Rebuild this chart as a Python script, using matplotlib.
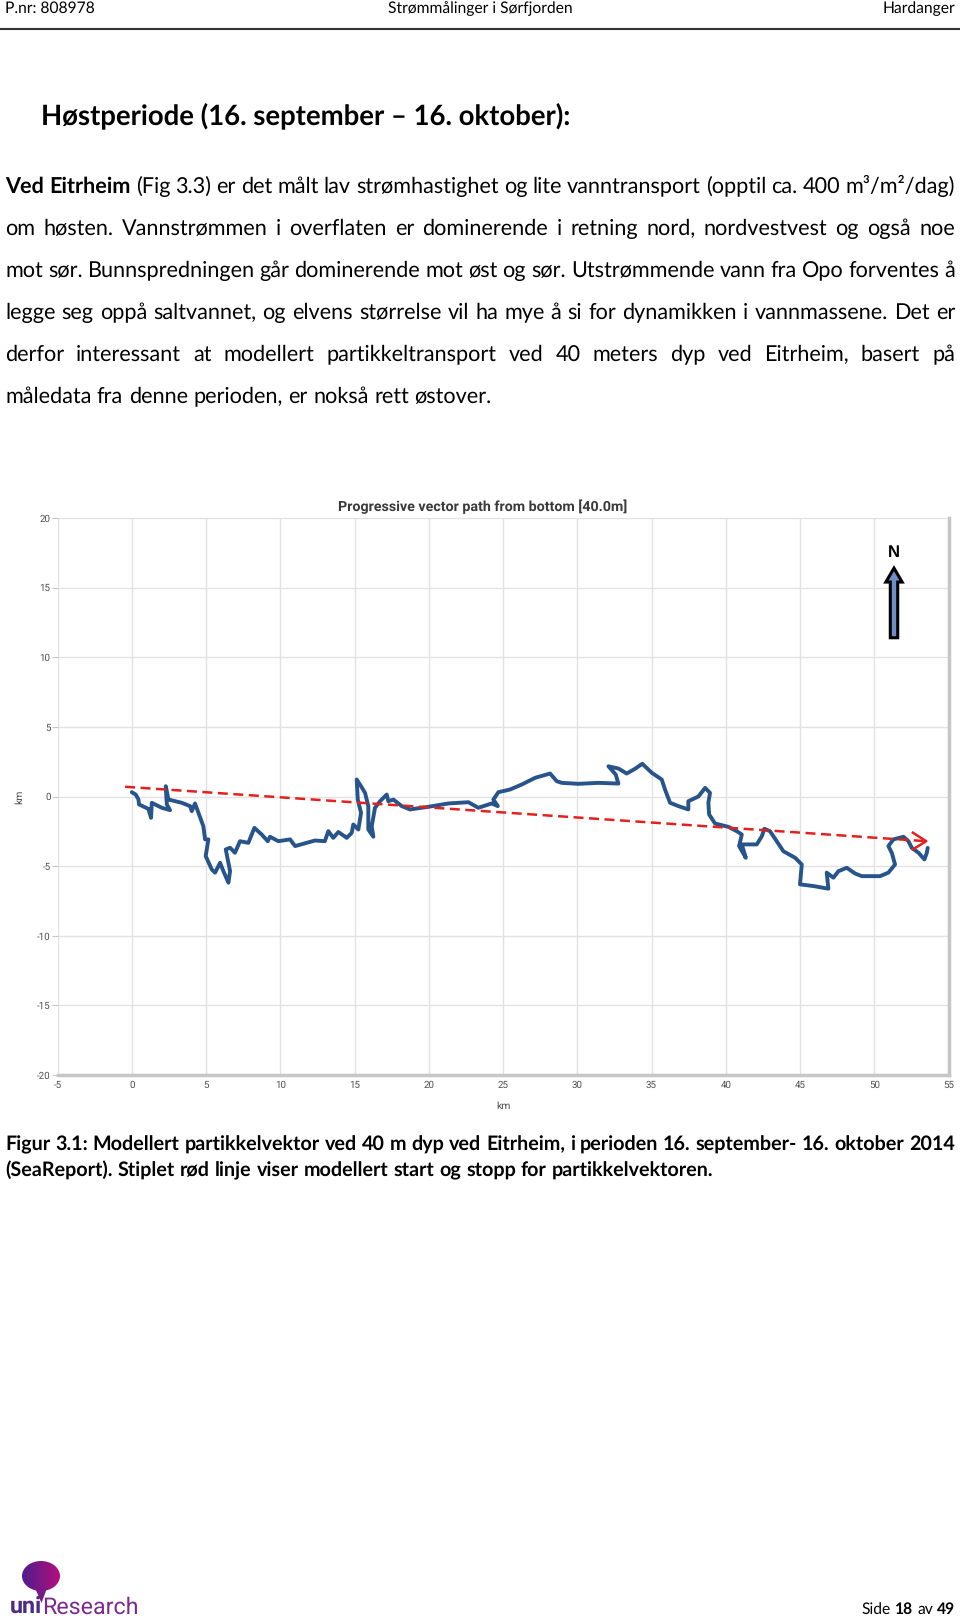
import numpy as np
import matplotlib
matplotlib.use('Agg')
import matplotlib.pyplot as plt
from matplotlib.font_manager import FontProperties
from matplotlib.patches import FancyArrow, Ellipse, Polygon

plt.rcParams['axes.unicode_minus'] = False
plt.rcParams['text.hinting'] = 'no_hinting'

W, H = 960, 1620

# progressive vector path (km east, km north)
path_x = [0.0, 0.27, 0.45, 0.49, 1.12, 1.30, 1.35, 2.02, 2.58, 2.36, 2.29, 2.47, 3.36, 3.93,
          4.04, 4.26, 4.49, 4.82, 4.94, 5.16, 4.98, 5.39, 5.61, 5.95, 6.17, 6.51, 6.62, 6.33,
          6.62, 6.95, 7.29, 7.85, 8.26, 8.75, 9.16, 9.31, 9.87, 10.66, 11.0, 12.34, 13.0, 13.24,
          13.57, 13.91, 14.48, 14.81, 14.92, 15.26, 15.44, 15.22, 15.15, 15.44, 15.71, 15.93,
          15.93, 16.27, 16.16, 16.38, 16.72, 17.17, 17.28, 17.62, 18.18, 18.74, 19.97, 21.32,
          22.67, 23.34, 24.24, 24.65, 24.35, 24.69, 25.47, 26.26, 27.16, 28.17, 28.62, 28.96,
          30.08, 31.42, 32.77, 32.59, 32.1, 32.77, 33.33, 33.89, 34.38, 35.02, 35.69, 35.91,
          36.25, 36.81, 37.48, 37.48, 38.16, 38.61, 38.94, 38.83, 38.88, 39.28, 40.18, 40.74,
          41.08, 40.9, 41.35, 41.08, 42.09, 42.43, 42.6, 42.98, 43.43, 43.88, 44.67, 45.12,
          45.0, 45.9, 46.91, 46.8, 47.25, 47.59, 48.15, 48.71, 49.16, 50.39, 50.95, 51.4,
          51.18, 50.95, 51.29, 51.97, 52.3, 52.53, 52.98, 53.38, 53.54, 53.6]
path_y = [0.31, 0.14, -0.2, -0.57, -0.89, -1.53, -0.45, -0.81, -0.98, -0.57, 0.74, -0.22, -0.45, -0.69,
          -1.05, -0.5, -1.17, -2.13, -3.08, -3.08, -4.28, -5.24, -5.47, -4.76, -5.36, -6.19, -5.36, -3.80,
          -3.68, -4.04, -3.21, -3.33, -2.25, -2.73, -3.21, -2.89, -3.21, -3.08, -3.56, -3.16, -3.21, -2.49,
          -2.97, -2.55, -2.97, -2.61, -2.01, -2.37, -1.17, -0.22, 1.22, 0.74, 0.26, -0.69,
          -2.37, -2.89, -2.13, -0.81, -0.34, 0.14, -0.34, -0.22, -0.69, -0.93, -0.74, -0.5,
          -0.41, -0.81, -0.5, -0.69, -0.22, 0.31, 0.5, 0.86, 1.34, 1.65, 1.1, 0.98,
          0.91, 0.98, 0.93, 1.58, 2.17, 2.01, 1.65, 1.99, 2.35, 1.70, 1.22, 0.5,
          -0.45, -0.69, -0.93, -0.34, 0.0, 0.62, 0.26, -0.45, -1.29, -1.94, -2.18, -2.49,
          -2.73, -3.56, -4.4, -3.44, -3.44, -2.85, -2.32, -2.49, -3.21, -3.93, -4.4, -4.88,
          -6.31, -6.43, -6.62, -5.47, -5.83, -5.36, -5.12, -5.53, -5.72, -5.72, -5.47, -4.88,
          -4.04, -3.56, -3.08, -2.89, -3.21, -3.69, -4.04, -4.52, -4.04, -3.69]

# modelled start and stop (red dashed line)
line_x = [-0.45, 53.5]
line_y = [0.70, -3.21]

x_ticks = list(range(-5, 56, 5))
y_ticks = list(range(-20, 21, 5))

chart_title = 'Progressive vector path from bottom [40.0m]'

header = ['P.nr: 808978', 'Strømmålinger i Sørfjorden', 'Hardanger']
heading = 'Høstperiode (16. september – 16. oktober):'
body = [
    [('Ved Eitrheim', 'bold'), ('(Fig 3.3) er det målt lav strømhastighet og lite vanntransport (opptil ca. 400 m³/m²/dag)', 'normal')],
    [('om høsten. Vannstrømmen i overflaten er dominerende i retning nord, nordvestvest og også noe', 'normal')],
    [('mot sør. Bunnspredningen går dominerende mot øst og sør. Utstrømmende vann fra Opo forventes å', 'normal')],
    [('legge seg oppå saltvannet, og elvens størrelse vil ha mye å si for dynamikken i vannmassene. Det er', 'normal')],
    [('derfor interessant at modellert partikkeltransport ved 40 meters dyp ved Eitrheim, basert på', 'normal')],
    [('måledata fra denne perioden, er nokså rett østover.', 'normal')],
]
caption = [
    'Figur 3.1: Modellert partikkelvektor ved 40 m dyp ved Eitrheim, i perioden 16. september- 16. oktober 2014',
    '(SeaReport). Stiplet rød linje viser modellert start og stopp for partikkelvektoren.',
]

DOC = ['Lato', 'DejaVu Sans']
CHART = 'Roboto'

fig = plt.figure(figsize=(W / 100, H / 100), dpi=100, facecolor='white')
page = fig.add_axes([0, 0, 1, 1], zorder=0)
page.set_xlim(0, W)
page.set_ylim(H, 0)
page.axis('off')
renderer = fig.canvas.get_renderer()


def text_width(s, size, family=DOC, weight='normal'):
    t = page.text(0, 0, s, fontsize=size, family=family, weight=weight)
    w = t.get_window_extent(renderer).width
    t.remove()
    return w


def fit(s, target, family=DOC, weight='normal'):
    return 10 * target / text_width(s, 10, family, weight)


def pixel_fix(s, size, family=DOC, weight='normal'):
    # agg puts each word's bitmap on whole pixels; undo the sub-pixel jump
    fp = FontProperties(family=family, size=size, weight=weight)
    _, h, d = renderer.get_text_width_height_descent(s, fp, ismath=False)
    fa = (h - d) % 1
    fb = d % 1
    return round(fb) - np.floor(fa + fb)


def put_line(segs, y, x0, x1=None, size=12, family=DOC):
    words = []
    for s, wt in segs:
        words += [(w, wt) for w in s.split(' ')]
    widths = [text_width(w, size, family, wt) for w, wt in words]
    if x1 is None or len(words) < 2:
        gap = text_width('a a', size, family) - text_width('aa', size, family)
    else:
        gap = (x1 - x0 - sum(widths)) / (len(words) - 1)
    x = x0
    for (w, wt), wd in zip(words, widths):
        page.text(x, y - pixel_fix(w, size, family, wt), w, fontsize=size, family=family,
                  weight=wt, ha='left', va='baseline')
        x += wd + gap


# header
hs = fit(header[1], 185)
for s, x, ha in zip(header, [5, 480, 955], ['left', 'center', 'right']):
    page.text(x, 13 - pixel_fix(s, hs), s, fontsize=hs, family=DOC, ha=ha, va='baseline')
page.plot([0, W], [29, 29], color='#333333', lw=1.5)

# heading and body text
page.text(41, 125, heading, fontsize=fit(heading, 530, weight='bold'), family=DOC,
          weight='bold', ha='left', va='baseline')
bs = fit(body[-1][0][0], 486)
for i, segs in enumerate(body):
    last = i == len(body) - 1
    put_line(segs, 193 + 42 * i, 5, None if last else 955, size=bs)

# caption
cs = fit(caption[1], 706, weight='bold')
put_line([(caption[0], 'bold')], 1150, 5, 955, size=cs)
put_line([(caption[1], 'bold')], 1176, 5, None, size=cs)

# footer
fs = hs
segs = [('Side', 'normal'), ('18', 'bold'), ('av', 'normal'), ('49', 'bold')]
sp = text_width('a a', fs) - text_width('aa', fs)
tot = sum(text_width(s, fs, DOC, w) for s, w in segs) + 3 * sp
put_line(segs, 1614, 955 - tot, None, size=fs)

# logo
grad = np.linspace(0, 1, 64)[None, :]
balloon = Ellipse((41, 1576), 38, 30, transform=page.transData, facecolor='none', edgecolor='none')
page.add_patch(balloon)
cmap = matplotlib.colors.LinearSegmentedColormap.from_list('uni', ['#4e1d8c', '#b3107c'])
im = page.imshow(grad, cmap=cmap, extent=[22, 60, 1591, 1561], aspect='auto', zorder=2)
im.set_clip_path(balloon)
page.add_patch(Polygon([[35, 1588], [47, 1588], [41.5, 1603]], closed=True, color='#7b1886', lw=0, zorder=2))
ls = fit('uniResearch', 128, family='Roboto')
uw = text_width('uni', ls, 'Roboto', 'bold')
page.text(10, 1614, 'uni', fontsize=ls, family='Roboto', weight='bold', color='#4d2a84', ha='left', va='baseline')
page.text(10 + uw, 1614, 'Research', fontsize=ls, family='Roboto', color='#7a2b8f', ha='left', va='baseline')
page.set_xlim(0, W)
page.set_ylim(H, 0)

# chart
ax = fig.add_axes([57.5 / W, 1 - 1075 / H, 891 / W, 557 / H], zorder=1)
ax.set_xlim(-5, 55)
ax.set_ylim(-20, 20)
ax.set_xticks(x_ticks)
ax.set_yticks(y_ticks)
ax.grid(color='#e2e2e2', lw=1)
ax.set_axisbelow(True)
for s in ['top', 'left']:
    ax.spines[s].set_visible(False)
for s in ['right', 'bottom']:
    ax.spines[s].set_color('#c6c6c6')
    ax.spines[s].set_linewidth(2.5)
ax.tick_params(axis='x', length=0, pad=4, labelsize=7, labelcolor='#505050')
ax.tick_params(axis='y', length=4, color='#c8c8c8', pad=1, labelsize=7, labelcolor='#505050')
for lab in ax.get_xticklabels() + ax.get_yticklabels():
    lab.set_family(CHART)
ax.set_xlabel('km', fontsize=7.5, family=CHART, color='#505050', labelpad=8)
ax.set_ylabel('km', fontsize=7.5, family=CHART, color='#505050', labelpad=9)
ax.set_title(chart_title, fontsize=fit(chart_title, 289, CHART, 'bold'), family=CHART,
             weight='bold', color='#3a3a3a', pad=5, x=(483 - 57.5) / 891)

ax.plot(path_x, path_y, color='#27548a', lw=2.8, solid_joinstyle='round', solid_capstyle='round', zorder=3)
ax.plot(line_x, line_y, color='#e3211c', lw=1.8, ls=(0, (4, 2.2)), zorder=4)
ax.plot([52.6, line_x[1], 52.6], [-2.6, line_y[1], -3.8], color='#e3211c', lw=1.8, zorder=4)

# north arrow
ax.add_patch(FancyArrow(51.33, 11.4, 0, 4.0, width=0.5, head_width=1.1, head_length=1.0,
                        length_includes_head=False, facecolor='#6f8fc4', edgecolor='black', lw=2.2, zorder=5))
ax.text(51.33, 17.5, 'N', fontsize=12, weight='bold', family='Liberation Sans', ha='center', va='center')

fig.savefig('out.png', dpi=100)
